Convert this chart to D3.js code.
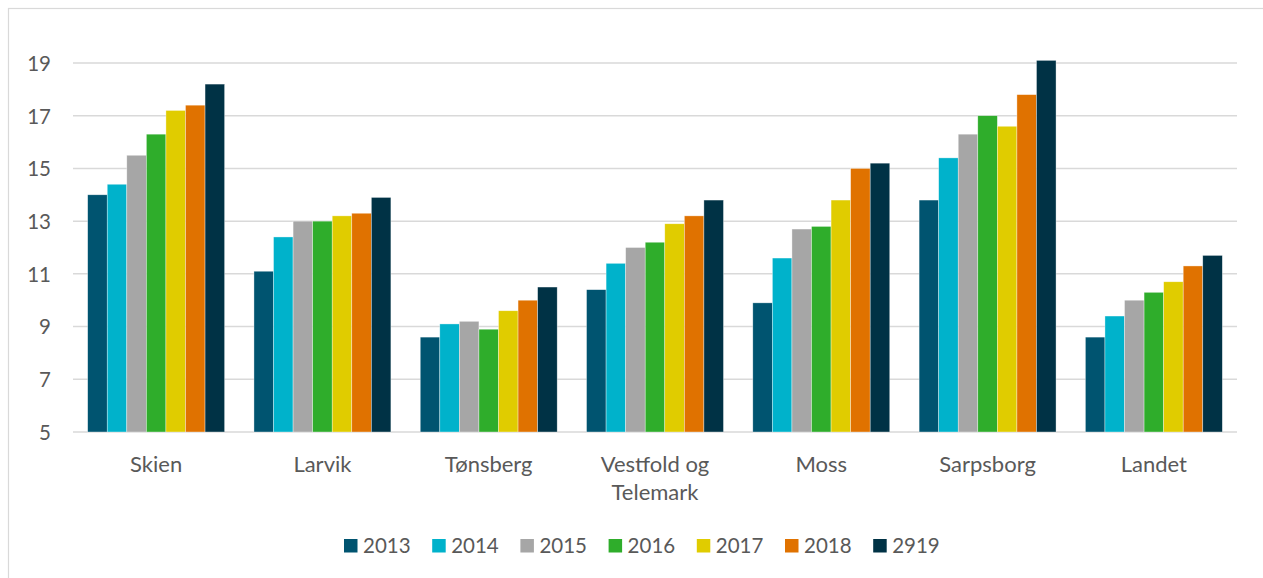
<!DOCTYPE html>
<html>
<head>
<meta charset="utf-8">
<script src="https://cdn.jsdelivr.net/npm/d3@7"></script>
<style>
  html, body { margin: 0; padding: 0; background: #fff; }
  svg { display: block; }
  text { font-family: Lato, "Liberation Sans", sans-serif; fill: #595959; }
</style>
</head>
<body>
<svg id="chart" width="1263" height="578"></svg>
<script>
const categories = ["Skien", "Larvik", "Tønsberg", "Vestfold og Telemark", "Moss", "Sarpsborg", "Landet"];
const categoryLines = [["Skien"], ["Larvik"], ["Tønsberg"], ["Vestfold og", "Telemark"], ["Moss"], ["Sarpsborg"], ["Landet"]];
const seriesNames = ["2013", "2014", "2015", "2016", "2017", "2018", "2919"];
const colors = ["#005470", "#00B2CB", "#A6A6A6", "#2FAD2B", "#E0CC00", "#E07200", "#003245"];
const v2013 = [14.0, 11.1, 8.6, 10.4, 9.9, 13.8, 8.6];
const v2014 = [14.4, 12.4, 9.1, 11.4, 11.6, 15.4, 9.4];
const v2015 = [15.5, 13.0, 9.2, 12.0, 12.7, 16.3, 10.0];
const v2016 = [16.3, 13.0, 8.9, 12.2, 12.8, 17.0, 10.3];
const v2017 = [17.2, 13.2, 9.6, 12.9, 13.8, 16.6, 10.7];
const v2018 = [17.4, 13.3, 10.0, 13.2, 15.0, 17.8, 11.3];
const v2919 = [18.2, 13.9, 10.5, 13.8, 15.2, 19.1, 11.7];
const seriesValues = [v2013, v2014, v2015, v2016, v2017, v2018, v2919];
const yTicks = [5, 7, 9, 11, 13, 15, 17, 19];

const svg = d3.select("#chart");

// chart border
svg.append("rect")
  .attr("x", 8.5).attr("y", 8.5)
  .attr("width", 1270).attr("height", 590)
  .attr("fill", "none").attr("stroke", "#D9D9D9").attr("stroke-width", 1.2);

const plotLeft = 73, plotRight = 1237, plotTop = 63, plotBottom = 432;

const x = d3.scaleBand().domain(categories).range([plotLeft, plotRight]).paddingInner(0).paddingOuter(0);
const groupWidth = x.bandwidth() * 7 / 8.5;
const x1 = d3.scaleBand().domain(seriesNames).range([0, groupWidth]).padding(0);
const y = d3.scaleLinear().domain([5, 19]).range([plotBottom, plotTop]);

// gridlines
const grid = svg.append("g");
grid.selectAll("line").data(yTicks).join("line")
  .attr("x1", plotLeft).attr("x2", plotRight)
  .attr("y1", d => y(d)).attr("y2", d => y(d))
  .attr("stroke", "#D9D9D9").attr("stroke-width", 1.5);

// y axis labels
const yAxis = d3.axisLeft(y).tickValues(yTicks).tickSize(0).tickPadding(0).tickFormat(d3.format("d"));
const ya = svg.append("g").attr("transform", `translate(51,0)`).call(yAxis);
ya.select(".domain").remove();
ya.selectAll("text").attr("font-size", 20.5).style("font-family", "Lato, 'Liberation Sans', sans-serif").attr("fill", "#595959").attr("dy", "0.36em");

// bars
const groups = svg.append("g").selectAll("g").data(categories).join("g")
  .attr("transform", d => `translate(${x(d) + (x.bandwidth() - groupWidth) / 2},0)`);
groups.selectAll("rect").data((c, i) => seriesNames.map((s, j) => ({ s, j, v: seriesValues[j][i] })))
  .join("rect")
  .attr("x", d => x1(d.s))
  .attr("width", x1.bandwidth())
  .attr("y", d => y(d.v))
  .attr("height", d => y(5) - y(d.v))
  .attr("fill", d => colors[d.j])
  .attr("stroke", "#ffffff").attr("stroke-opacity", 0.6).attr("stroke-width", 0.6);

// x labels
const xl = svg.append("g");
categories.forEach((c, i) => {
  const t = xl.append("text")
    .attr("x", x(c) + x.bandwidth() / 2)
    .attr("y", 471.5)
    .attr("text-anchor", "middle")
    .attr("font-size", 22);
  categoryLines[i].forEach((line, k) => {
    t.append("tspan").attr("x", x(c) + x.bandwidth() / 2).attr("dy", k === 0 ? 0 : 28.5).text(line);
  });
});

// legend
const legend = svg.append("g");
const legendX0 = 344, legendStep = 88.2;
seriesNames.forEach((s, j) => {
  const g = legend.append("g").attr("transform", `translate(${legendX0 + j * legendStep},539)`);
  g.append("rect").attr("width", 13.5).attr("height", 13.5).attr("fill", colors[j]);
  g.append("text").attr("x", 19).attr("y", 13.8).attr("font-size", 20.5).text(s);
});
</script>
</body>
</html>
